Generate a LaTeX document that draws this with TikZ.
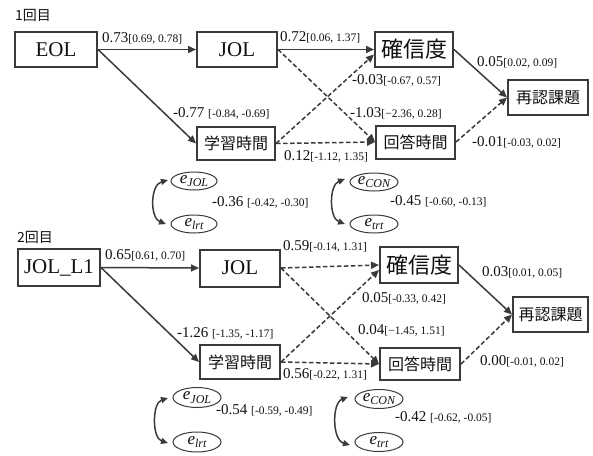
\documentclass[tikz,border=0pt]{standalone}
\usepackage{fontspec}
\setmainfont{Liberation Serif}
\newfontfamily\jp{Noto Sans CJK JP}
\usetikzlibrary{arrows.meta,shapes.geometric}
\definecolor{lc}{HTML}{3A3A3A}
\definecolor{tc}{HTML}{111111}
\newcommand\pathlab[2]{{\fontsize{15}{15}\selectfont #1}{\fontsize{11.5}{11.5}\selectfont #2}}
\newcommand\errlab[1]{{\fontsize{17}{17}\selectfont\itshape e}\raisebox{-3.5pt}{\fontsize{12}{12}\selectfont\itshape #1}}
\newcommand\jpbig{\jp\fontsize{22}{22}\selectfont}
\newcommand\jpmid{\jp\fontsize{16}{16}\selectfont}
\newcommand\enbig{\fontsize{21}{21}\selectfont}
\tikzset{
  boxnode/.style={draw=lc, line width=2pt, fill=white, inner sep=0pt, text=tc},
  errnode/.style={draw=lc, line width=1pt, ellipse, inner sep=0pt, text=tc},
  lab/.style={anchor=west, inner sep=0pt, text=tc},
  title/.style={anchor=west, inner sep=0pt, text=tc, font=\jp\fontsize{14}{14}\selectfont},
  solidarr/.style={draw=lc, line width=1.5pt, -{Triangle[length=8pt,width=7pt]}},
  dasharr/.style={draw=lc, line width=1.5pt, dash pattern=on 4.5pt off 2.5pt, -{Triangle[length=8pt,width=7pt]}},
  covarr/.style={draw=lc, line width=1.5pt, {Triangle[length=7pt,width=6pt]}-{Triangle[length=7pt,width=6pt]}}
}
\begin{document}
\begin{tikzpicture}[x=1pt,y=-1pt]
\useasboundingbox (0,0) rectangle (593,455);
% ---------- Section 1 ----------
\node[title] (t1) at (15,15) {1回目};
\node[boxnode, minimum width=82pt, minimum height=35pt, font=\enbig] (eol) at (56,49.5) {EOL};
\node[boxnode, minimum width=80pt, minimum height=35pt, font=\enbig] (jol1) at (237,49.5) {JOL};
\node[boxnode, minimum width=78pt, minimum height=35pt, font=\jpbig] (kak1) at (414,49.5) {確信度};
\node[boxnode, minimum width=80pt, minimum height=35pt, font=\jpmid] (sai1) at (548,97.5) {再認課題};
\node[boxnode, minimum width=78pt, minimum height=33pt, font=\jpmid] (gak1) at (236,143.5) {学習時間};
\node[boxnode, minimum width=79pt, minimum height=33pt, font=\jpmid] (kai1) at (415.5,142) {回答時間};

\draw[solidarr] (eol.east) -- (jol1.west);
\draw[solidarr] (eol.east) -- (gak1.west);
\draw[solidarr] (jol1.east) -- (kak1.west);
\draw[dasharr] (jol1.east) -- (kai1.west);
\draw[dasharr] (gak1.east) -- ([yshift=-5pt]kak1.west);
\draw[dasharr] (gak1.east) -- (kai1.west);
\draw[solidarr] (kak1.east) -- (sai1.west);
\draw[dasharr] (kai1.east) -- (sai1.west);

\node[lab] (l1a) at (102,38) {\pathlab{0.73}{[0.69, 0.78]}};
\node[lab] (l1b) at (280,37) {\pathlab{0.72}{[0.06, 1.37]}};
\node[lab] (l1c) at (477,62) {\pathlab{0.05}{[0.02, 0.09]}};
\node[lab] (l1d) at (352,80) {\pathlab{-0.03}{[-0.67, 0.57]}};
\node[lab] (l1e) at (350,113) {\pathlab{-1.03}{[−2.36, 0.28]}};
\node[lab] (l1f) at (173,113) {\pathlab{-0.77 }{[-0.84, -0.69]}};
\node[lab] (l1g) at (284,156) {\pathlab{0.12}{[-1.12, 1.35]}};
\node[lab] (l1h) at (472,142) {\pathlab{-0.01}{[-0.03, 0.02]}};

\node[errnode, minimum width=46pt, minimum height=18pt] (ej1) at (194,181) {\errlab{JOL}};
\node[errnode, minimum width=46pt, minimum height=18pt] (el1) at (194,224) {\errlab{lrt}};
\node[errnode, minimum width=48pt, minimum height=18pt] (ec1) at (374,182) {\errlab{CON}};
\node[errnode, minimum width=48pt, minimum height=18pt] (et1) at (374,224) {\errlab{trt}};
\coordinate (c1a) at (168,180);
\coordinate (c1b) at (166,224);
\coordinate (c1c) at (345,179);
\coordinate (c1d) at (345,224);
\draw[covarr] (c1a) .. controls (150,185) and (150,218) .. (c1b);
\draw[covarr] (c1c) .. controls (329,185) and (329,218) .. (c1d);
\node[lab] (l1i) at (212,202) {\pathlab{-0.36 }{[-0.42, -0.30]}};
\node[lab] (l1j) at (390,201) {\pathlab{-0.45 }{[-0.60, -0.13]}};

% ---------- Section 2 ----------
\node[title] (t2) at (17,237) {2回目};
\node[boxnode, minimum width=82pt, minimum height=37pt, font=\enbig] (jl1) at (59,267.5) {JOL\_L1};
\node[boxnode, minimum width=80pt, minimum height=37pt, font=\enbig] (jol2) at (240,268) {JOL};
\node[boxnode, minimum width=78pt, minimum height=36pt, font=\jpbig] (kak2) at (419,265) {確信度};
\node[boxnode, minimum width=75pt, minimum height=35pt, font=\jpmid] (sai2) at (550.5,314.5) {再認課題};
\node[boxnode, minimum width=80pt, minimum height=34pt, font=\jpmid] (gak2) at (240,362) {学習時間};
\node[boxnode, minimum width=80pt, minimum height=32pt, font=\jpmid] (kai2) at (420,364) {回答時間};

\draw[solidarr] (jl1.east) -- (jol2.west);
\draw[solidarr] (jl1.east) -- (gak2.west);
\draw[dasharr] (jol2.east) -- (kak2.west);
\draw[dasharr] (jol2.east) -- (kai2.west);
\draw[dasharr] (gak2.east) -- ([yshift=-5pt]kak2.west);
\draw[dasharr] (gak2.east) -- (kai2.west);
\draw[solidarr] (kak2.east) -- (sai2.west);
\draw[dasharr] (kai2.east) -- (sai2.west);

\node[lab] (l2a) at (105,255) {\pathlab{0.65}{[0.61, 0.70]}};
\node[lab] (l2b) at (283,246) {\pathlab{0.59}{[-0.14, 1.31]}};
\node[lab] (l2c) at (482,272) {\pathlab{0.03}{[0.01, 0.05]}};
\node[lab] (l2d) at (362,298) {\pathlab{0.05}{[-0.33, 0.42]}};
\node[lab] (l2e) at (358,330) {\pathlab{0.04}{[−1.45, 1.51]}};
\node[lab] (l2f) at (177,333) {\pathlab{-1.26 }{[-1.35, -1.17]}};
\node[lab] (l2g) at (283,374) {\pathlab{0.56}{[-0.22, 1.31]}};
\node[lab] (l2h) at (480,361) {\pathlab{0.00}{[-0.01, 0.02]}};

\node[errnode, minimum width=48pt, minimum height=20pt] (ej2) at (197,397.5) {\errlab{JOL}};
\node[errnode, minimum width=48pt, minimum height=20pt] (el2) at (197,442) {\errlab{lrt}};
\node[errnode, minimum width=48pt, minimum height=19pt] (ec2) at (379,399) {\errlab{CON}};
\node[errnode, minimum width=48pt, minimum height=19pt] (et2) at (379,442) {\errlab{trt}};
\coordinate (c2a) at (168,398);
\coordinate (c2b) at (168,443);
\coordinate (c2c) at (348,397);
\coordinate (c2d) at (350,445);
\draw[covarr] (c2a) .. controls (152,403) and (152,438) .. (c2b);
\draw[covarr] (c2c) .. controls (332,403) and (332,440) .. (c2d);
\node[lab] (l2i) at (216,410) {\pathlab{-0.54 }{[-0.59, -0.49]}};
\node[lab] (l2j) at (395,417) {\pathlab{-0.42 }{[-0.62, -0.05]}};
\end{tikzpicture}
\end{document}
